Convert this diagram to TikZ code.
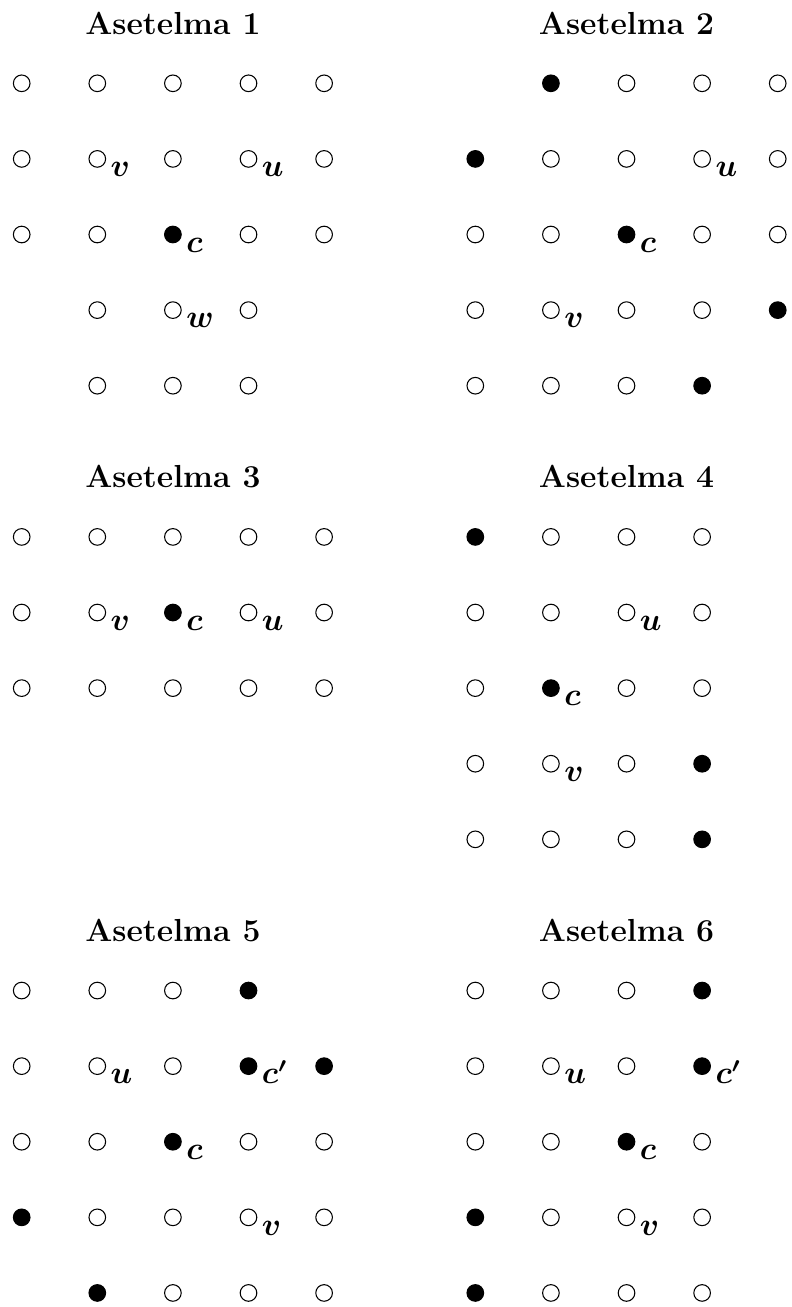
\documentclass[tikz,border=0pt]{standalone}
\usepackage{amsmath}
\tikzset{pt/.style={circle, draw, thin, inner sep=0pt, minimum size=2.2mm},
         full/.style={pt, fill=black},
         lbl/.style={anchor=base west, inner sep=0pt, font=\large},
         ttl/.style={anchor=base, font=\large\bfseries}}

\begin{document}
\begin{tikzpicture}
  \useasboundingbox (-0.287,-16.186) rectangle (10.176,1.102);
  \begin{scope}
   \node[ttl] (ta) at (2,0.65) {Asetelma 1};
   \foreach \x/\s in {0/pt,1/pt,2/pt,3/pt,4/pt}   \node[\s] (a\x0) at (\x, 0) {};
   \foreach \x/\s in {0/pt,1/pt,2/pt,3/pt,4/pt}   \node[\s] (a\x1) at (\x,-1) {};
   \foreach \x/\s in {0/pt,1/pt,2/full,3/pt,4/pt} \node[\s] (a\x2) at (\x,-2) {};
   \foreach \x/\s in {1/pt,2/pt,3/pt}             \node[\s] (a\x3) at (\x,-3) {};
   \foreach \x/\s in {1/pt,2/pt,3/pt}             \node[\s] (a\x4) at (\x,-4) {};
   \node[lbl] (av) at ([shift={(0.17,-0.235)}]a11) {$\boldsymbol{v}$};
   \node[lbl] (au) at ([shift={(0.17,-0.235)}]a31) {$\boldsymbol{u}$};
   \node[lbl] (ac) at ([shift={(0.17,-0.235)}]a22) {$\boldsymbol{c}$};
   \node[lbl] (aw) at ([shift={(0.17,-0.235)}]a23) {$\boldsymbol{w}$};
  \end{scope}
  \begin{scope}[xshift=6cm]
   \node[ttl] (tb) at (2,0.65) {Asetelma 2};
   \foreach \x/\s in {1/full,2/pt,3/pt,4/pt}      \node[\s] (b\x0) at (\x, 0) {};
   \foreach \x/\s in {0/full,1/pt,2/pt,3/pt,4/pt} \node[\s] (b\x1) at (\x,-1) {};
   \foreach \x/\s in {0/pt,1/pt,2/full,3/pt,4/pt} \node[\s] (b\x2) at (\x,-2) {};
   \foreach \x/\s in {0/pt,1/pt,2/pt,3/pt,4/full} \node[\s] (b\x3) at (\x,-3) {};
   \foreach \x/\s in {0/pt,1/pt,2/pt,3/full}      \node[\s] (b\x4) at (\x,-4) {};
   \node[lbl] (bu) at ([shift={(0.17,-0.235)}]b31) {$\boldsymbol{u}$};
   \node[lbl] (bc) at ([shift={(0.17,-0.235)}]b22) {$\boldsymbol{c}$};
   \node[lbl] (bv) at ([shift={(0.17,-0.235)}]b13) {$\boldsymbol{v}$};
  \end{scope}
  \begin{scope}[yshift=-6cm]
   \node[ttl] (tc) at (2,0.65) {Asetelma 3};
   \foreach \x/\s in {0/pt,1/pt,2/pt,3/pt,4/pt}   \node[\s] (c\x0) at (\x, 0) {};
   \foreach \x/\s in {0/pt,1/pt,2/full,3/pt,4/pt} \node[\s] (c\x1) at (\x,-1) {};
   \foreach \x/\s in {0/pt,1/pt,2/pt,3/pt,4/pt}   \node[\s] (c\x2) at (\x,-2) {};
   \node[lbl] (cv) at ([shift={(0.17,-0.235)}]c11) {$\boldsymbol{v}$};
   \node[lbl] (cc) at ([shift={(0.17,-0.235)}]c21) {$\boldsymbol{c}$};
   \node[lbl] (cu) at ([shift={(0.17,-0.235)}]c31) {$\boldsymbol{u}$};
  \end{scope}
  \begin{scope}[xshift=6cm,yshift=-6cm]
   \node[ttl] (td) at (2,0.65) {Asetelma 4};
   \foreach \x/\s in {0/full,1/pt,2/pt,3/pt}      \node[\s] (d\x0) at (\x, 0) {};
   \foreach \x/\s in {0/pt,1/pt,2/pt,3/pt}        \node[\s] (d\x1) at (\x,-1) {};
   \foreach \x/\s in {0/pt,1/full,2/pt,3/pt}      \node[\s] (d\x2) at (\x,-2) {};
   \foreach \x/\s in {0/pt,1/pt,2/pt,3/full}      \node[\s] (d\x3) at (\x,-3) {};
   \foreach \x/\s in {0/pt,1/pt,2/pt,3/full}      \node[\s] (d\x4) at (\x,-4) {};
   \node[lbl] (du) at ([shift={(0.17,-0.235)}]d21) {$\boldsymbol{u}$};
   \node[lbl] (dc) at ([shift={(0.17,-0.235)}]d12) {$\boldsymbol{c}$};
   \node[lbl] (dv) at ([shift={(0.17,-0.235)}]d13) {$\boldsymbol{v}$};
  \end{scope}
  \begin{scope}[yshift=-12cm]
   \node[ttl] (te) at (2,0.65) {Asetelma 5};
   \foreach \x/\s in {0/pt,1/pt,2/pt,3/full}          \node[\s] (e\x0) at (\x, 0) {};
   \foreach \x/\s in {0/pt,1/pt,2/pt,3/full,4/full}   \node[\s] (e\x1) at (\x,-1) {};
   \foreach \x/\s in {0/pt,1/pt,2/full,3/pt,4/pt}     \node[\s] (e\x2) at (\x,-2) {};
   \foreach \x/\s in {0/full,1/pt,2/pt,3/pt,4/pt}     \node[\s] (e\x3) at (\x,-3) {};
   \foreach \x/\s in {1/full,2/pt,3/pt,4/pt}          \node[\s] (e\x4) at (\x,-4) {};
   \node[lbl] (eu) at ([shift={(0.17,-0.235)}]e11) {$\boldsymbol{u}$};
   \node[lbl] (ed) at ([shift={(0.17,-0.235)}]e31) {$\boldsymbol{c'}$};
   \node[lbl] (ec) at ([shift={(0.17,-0.235)}]e22) {$\boldsymbol{c}$};
   \node[lbl] (ev) at ([shift={(0.17,-0.235)}]e33) {$\boldsymbol{v}$};
  \end{scope}
  \begin{scope}[xshift=6cm,yshift=-12cm]
   \node[ttl] (tf) at (2,0.65) {Asetelma 6};
   \foreach \x/\s in {0/pt,1/pt,2/pt,3/full}      \node[\s] (f\x0) at (\x, 0) {};
   \foreach \x/\s in {0/pt,1/pt,2/pt,3/full}      \node[\s] (f\x1) at (\x,-1) {};
   \foreach \x/\s in {0/pt,1/pt,2/full,3/pt}      \node[\s] (f\x2) at (\x,-2) {};
   \foreach \x/\s in {0/full,1/pt,2/pt,3/pt}      \node[\s] (f\x3) at (\x,-3) {};
   \foreach \x/\s in {0/full,1/pt,2/pt,3/pt}      \node[\s] (f\x4) at (\x,-4) {};
   \node[lbl] (fu) at ([shift={(0.17,-0.235)}]f11) {$\boldsymbol{u}$};
   \node[lbl] (fd) at ([shift={(0.17,-0.235)}]f31) {$\boldsymbol{c'}$};
   \node[lbl] (fc) at ([shift={(0.17,-0.235)}]f22) {$\boldsymbol{c}$};
   \node[lbl] (fv) at ([shift={(0.17,-0.235)}]f23) {$\boldsymbol{v}$};
  \end{scope}
 \end{tikzpicture}
\end{document}
